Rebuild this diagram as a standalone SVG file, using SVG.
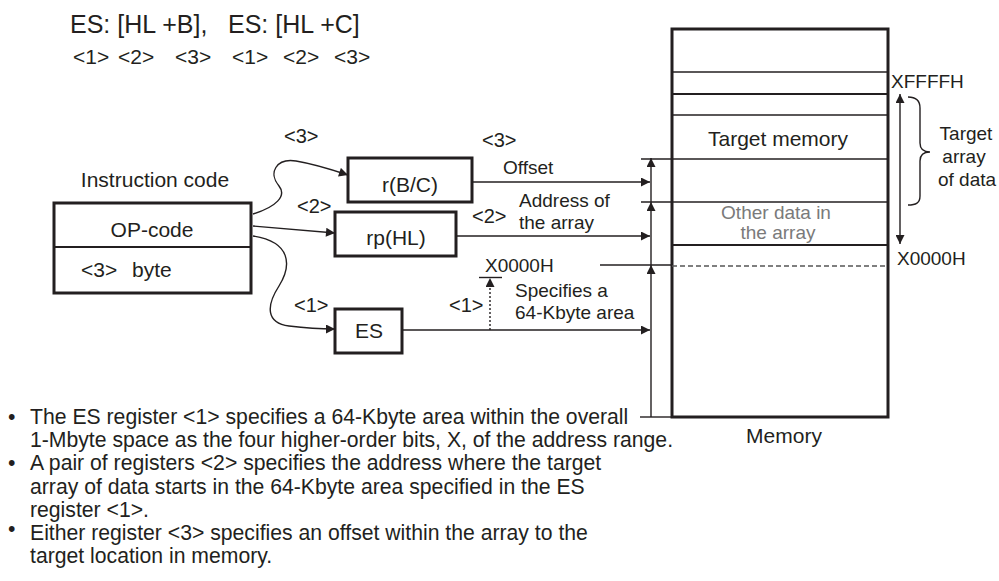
<svg xmlns="http://www.w3.org/2000/svg" width="999" height="581" viewBox="0 0 999 581">
<style>
text{font-family:"Liberation Sans",Arial,Helvetica,sans-serif;fill:#231f20}
.t21{font-size:21px}
.tn{font-size:21.2px}
.t19{font-size:19px}
.t20{font-size:20px}
.t25{font-size:25px}
.mid{text-anchor:middle}
.gray{fill:#7a7a7a}
.box{fill:#fff;stroke:#231f20;stroke-width:3}
.ln{fill:none;stroke:#231f20;stroke-width:1.4}
.ln2{fill:none;stroke:#231f20;stroke-width:2}
.arr{fill:none;stroke:#231f20;stroke-width:1.4;marker-end:url(#ah)}
</style>
<defs>
<marker id="ah" viewBox="0 0 10 10" refX="10" refY="5" markerWidth="11" markerHeight="9" markerUnits="userSpaceOnUse" orient="auto-start-reverse">
<path d="M0,0 L10,5 L0,10 z" fill="#231f20"/>
</marker>
</defs>
<rect width="999" height="581" fill="#fff"/>

<g id="title">
<text class="t25" x="70" y="33">ES: [HL +B],</text>
<text class="t25" x="228" y="33">ES: [HL +C]</text>
<text class="t21" x="73" y="64">&lt;1&gt;</text>
<text class="t21" x="118" y="64">&lt;2&gt;</text>
<text class="t21" x="175" y="64">&lt;3&gt;</text>
<text class="t21" x="232" y="64">&lt;1&gt;</text>
<text class="t21" x="283" y="64">&lt;2&gt;</text>
<text class="t21" x="334" y="64">&lt;3&gt;</text>
</g>

<g id="instruction">
<text class="t21 mid" x="155" y="187">Instruction code</text>
<rect class="box" x="54" y="203" width="197" height="90"/>
<line class="ln2" x1="54" y1="247" x2="251" y2="247"/>
<text class="t21 mid" x="152" y="237">OP-code</text>
<text class="t21" x="81" y="277">&lt;3&gt;</text>
<text class="t21" x="132" y="277">byte</text>
</g>

<g id="rBC">
<rect class="box" x="348" y="158" width="124" height="44"/>
<text class="t21 mid" x="410" y="192">r(B/C)</text>
</g>
<g id="rpHL">
<rect class="box" x="335" y="212" width="121" height="44"/>
<text class="t21 mid" x="396" y="245">rp(HL)</text>
</g>
<g id="ES">
<rect class="box" x="335" y="309" width="67" height="44"/>
<text class="t21 mid" x="369" y="338">ES</text>
</g>

<g id="memory">
<rect x="672" y="29" width="216" height="388" fill="#fff" stroke="#231f20" stroke-width="3"/>
<line class="ln" x1="672" y1="72" x2="888" y2="72"/>
<line class="ln2" x1="672" y1="94" x2="888" y2="94"/>
<line class="ln" x1="672" y1="115" x2="888" y2="115"/>
<line class="ln" x1="641" y1="159" x2="888" y2="159"/>
<line class="ln" x1="641" y1="202" x2="888" y2="202"/>
<line class="ln2" x1="672" y1="245" x2="888" y2="245"/>
<line x1="672" y1="266" x2="888" y2="266" stroke="#555" stroke-width="1.3" stroke-dasharray="5,3"/>
<text class="t21 mid" x="778" y="146">Target memory</text>
<text class="t19 mid gray" x="776" y="219">Other data in</text>
<text class="t19 mid gray" x="778" y="239">the array</text>
<text class="t21 mid" x="784" y="443">Memory</text>
<text class="t19" x="891" y="88">XFFFFH</text>
<text class="t19" x="897" y="265">X0000H</text>
<text class="t19 mid" x="966" y="140">Target</text>
<text class="t19 mid" x="964" y="163">array</text>
<text class="t19 mid" x="967" y="186">of data</text>
<path class="ln" d="M908,97 C916,97 920,100 920,108 L920,143 C920,149 924,152 930,152 C924,152 920,155 920,161 L920,196 C920,203 916,205 908,205"/>
</g>

<g id="connectors">
<path class="arr" d="M253,214 C276,207 287,196 279,186 C268,173 276,158 296,161 C314,164 330,169 348,175"/>
<path class="arr" d="M253,226 L335,233"/>
<path class="arr" d="M253,236 C291,242 292,265 279,286 C266,306 266,323 289,326 C305,328 320,329 335,329"/>
<path class="arr" d="M472,182 L650,182"/>
<path class="arr" d="M456,236 L650,236"/>
<path class="arr" d="M402,330 L650,330"/>
<path class="arr" d="M651,417 L651,265"/>
<path class="arr" d="M651,265 L651,202"/>
<path class="arr" d="M651,202 L651,158"/>
<line class="ln" x1="600" y1="265" x2="672" y2="265"/>
<line class="ln" x1="640" y1="417" x2="672" y2="417"/>
<path class="arr" d="M490,330 L490,278" stroke-dasharray="2,2"/>
<line class="ln" x1="479" y1="277.5" x2="502" y2="277.5"/>
<path class="ln" d="M900,244 L900,94" marker-start="url(#ah)" marker-end="url(#ah)"/>
</g>

<g id="labels">
<text class="t20" x="284" y="143">&lt;3&gt;</text>
<text class="t20" x="297" y="213">&lt;2&gt;</text>
<text class="t20" x="294" y="312">&lt;1&gt;</text>
<text class="t20" x="482" y="147">&lt;3&gt;</text>
<text class="t19" x="503" y="174">Offset</text>
<text class="t19" x="519" y="207">Address of</text>
<text class="t19" x="519" y="229">the array</text>
<text class="t20" x="472" y="223">&lt;2&gt;</text>
<text class="t19" x="485" y="272">X0000H</text>
<text class="t20" x="449" y="312">&lt;1&gt;</text>
<text class="t19" x="515" y="297">Specifies a</text>
<text class="t19" x="515" y="319">64-Kbyte area</text>
</g>

<g id="notes">
<text class="tn" x="8" y="424">•</text>
<text class="tn" x="30" y="424">The ES register &lt;1&gt; specifies a 64-Kbyte area within the overall</text>
<text class="tn" x="30" y="447">1-Mbyte space as the four higher-order bits, X, of the address range.</text>
<text class="tn" x="8" y="470">•</text>
<text class="tn" x="30" y="470">A pair of registers &lt;2&gt; specifies the address where the target</text>
<text class="tn" x="30" y="494">array of data starts in the 64-Kbyte area specified in the ES</text>
<text class="tn" x="30" y="517">register &lt;1&gt;.</text>
<text class="tn" x="8" y="536">•</text>
<text class="tn" x="30" y="540">Either register &lt;3&gt; specifies an offset within the array to the</text>
<text class="tn" x="30" y="563">target location in memory.</text>
</g>
</svg>
